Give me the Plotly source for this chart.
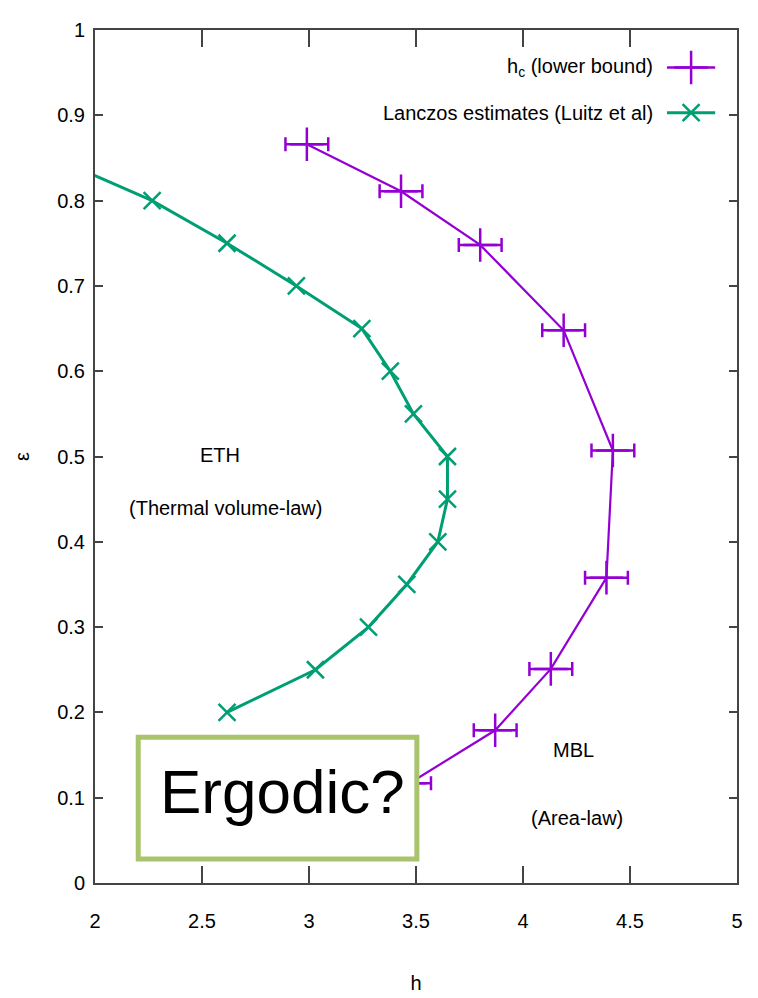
import plotly.graph_objects as go

# Critical field h_c (lower bound) with horizontal error bars
hc_h = [2.99, 3.43, 3.80, 4.19, 4.42, 4.39, 4.13, 3.87, 3.47]
hc_eps = [0.866, 0.811, 0.748, 0.648, 0.507, 0.358, 0.251, 0.179, 0.117]
hc_err = [0.10, 0.10, 0.10, 0.10, 0.10, 0.10, 0.10, 0.10, 0.10]

# Lanczos estimates (Luitz et al)
lz_h = [1.81, 2.267, 2.617, 2.941, 3.247, 3.38, 3.488, 3.647, 3.647, 3.602, 3.457, 3.278, 3.03, 2.617]
lz_eps = [0.85, 0.80, 0.75, 0.70, 0.65, 0.60, 0.55, 0.50, 0.45, 0.40, 0.35, 0.30, 0.25, 0.20]

x_ticks = [2, 2.5, 3, 3.5, 4, 4.5, 5]
x_tick_text = ["2", "2.5", "3", "3.5", "4", "4.5", "5"]
y_ticks = [0, 0.1, 0.2, 0.3, 0.4, 0.5, 0.6, 0.7, 0.8, 0.9, 1]
y_tick_text = ["0", "0.1", "0.2", "0.3", "0.4", "0.5", "0.6", "0.7", "0.8", "0.9", "1"]

legend_labels = ["h<sub>c</sub> (lower bound)", "Lanczos estimates (Luitz et al)"]

PURPLE = "#9400D3"
GREEN = "#009E73"
BOX = "#A9C46C"
FONT = "Liberation Sans, Arial, sans-serif"
FS = 20

fig = go.Figure()

fig.add_trace(go.Scatter(
    x=lz_h, y=lz_eps, mode="lines+markers",
    line=dict(color=GREEN, width=3),
    marker=dict(symbol="x-thin", size=17, line=dict(color=GREEN, width=2.5)),
    showlegend=False,
))

fig.add_trace(go.Scatter(
    x=hc_h, y=hc_eps, mode="lines+markers",
    line=dict(color=PURPLE, width=2.2),
    marker=dict(symbol="cross-thin", size=24, line=dict(color=PURPLE, width=2.5)),
    error_x=dict(type="data", array=hc_err, color=PURPLE, thickness=2.5, width=7),
    showlegend=False,
))

# Key samples on an overlay axis spanning the plot area
key_x = [0.891, 0.966]
key_rows = [0.956, 0.903]
key_styles = [
    (PURPLE, 2.5, "cross-thin", 24),
    (GREEN, 3, "x-thin", 17),
]
for row_y, (col, lw, sym, sz), label in zip(key_rows, key_styles, legend_labels):
    fig.add_trace(go.Scatter(
        x=key_x, y=[row_y, row_y], mode="lines", line=dict(color=col, width=lw),
        xaxis="x2", yaxis="y2", showlegend=False, hoverinfo="skip",
    ))
    fig.add_trace(go.Scatter(
        x=[sum(key_x) / 2], y=[row_y], mode="markers",
        marker=dict(symbol=sym, size=sz, line=dict(color=col, width=2.5)),
        xaxis="x2", yaxis="y2", showlegend=False, hoverinfo="skip",
    ))
    fig.add_annotation(
        xref="x2", yref="y2", x=0.872, y=row_y, text=label, showarrow=False,
        xanchor="right", yanchor="middle", font=dict(family=FONT, size=FS, color="black"),
    )

# Region labels
region_font = dict(family=FONT, size=FS, color="black")
fig.add_annotation(x=2.586, y=0.502, text="ETH", showarrow=False, font=region_font)
fig.add_annotation(x=2.61, y=0.44, text="(Thermal volume-law)", showarrow=False, font=region_font)
fig.add_annotation(x=4.236, y=0.156, text="MBL", showarrow=False, font=region_font)
fig.add_annotation(x=4.25, y=0.076, text="(Area-law)", showarrow=False, font=region_font)

# "Ergodic?" callout box
fig.add_shape(
    type="rect", xref="x", yref="y", x0=2.202, x1=3.504, y0=0.028, y1=0.171,
    fillcolor="white", line=dict(color=BOX, width=5), layer="above",
)
fig.add_annotation(
    x=2.875, y=0.107, text="Ergodic?", showarrow=False,
    font=dict(family=FONT, size=62, color="black"),
)

axis_common = dict(
    showgrid=False, zeroline=False, showline=True, linecolor="#444", linewidth=2,
    mirror="allticks", ticks="inside", tickcolor="#444", tickwidth=1.5,
    tickfont=dict(family=FONT, size=FS, color="black"), automargin=False,
)

fig.update_layout(
    width=758, height=998,
    margin=dict(l=95, r=21, t=30, b=115),
    paper_bgcolor="white", plot_bgcolor="white",
    xaxis=dict(
        range=[2, 5], tickvals=x_ticks, ticktext=x_tick_text, ticklen=17,
        ticklabelstandoff=19,
        title=dict(text="h", font=dict(family=FONT, size=FS, color="black"), standoff=45),
        **axis_common,
    ),
    yaxis=dict(
        range=[0, 1], tickvals=y_ticks, ticktext=y_tick_text, ticklen=8,
        ticklabelstandoff=4,
        title=dict(text="ε", font=dict(family=FONT, size=FS, color="black"), standoff=22),
        **axis_common,
    ),
    xaxis2=dict(range=[0, 1], overlaying="x", visible=False, fixedrange=True),
    yaxis2=dict(range=[0, 1], overlaying="y", visible=False, fixedrange=True),
)

fig.write_html("out.html")
